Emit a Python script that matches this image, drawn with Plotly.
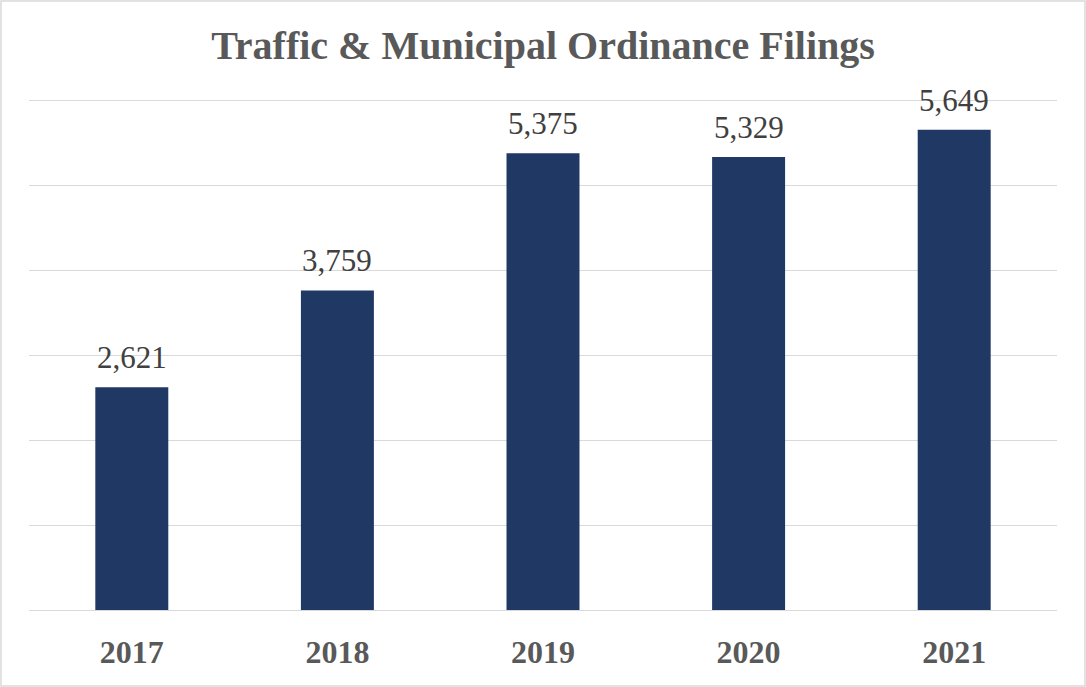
import plotly.graph_objects as go

years = ["2017", "2018", "2019", "2020", "2021"]
filings = [2621, 3759, 5375, 5329, 5649]
labels = ["2,621", "3,759", "5,375", "5,329", "5,649"]

W, H = 1086, 687
L, R, T, B = 29, 29, 95, 77
pw, ph = W - L - R, H - T - B
ymax = 6000 * ph / 510.0

fig = go.Figure(go.Bar(
    x=years, y=filings,
    marker=dict(color="#203864", line=dict(width=0)),
    width=0.355, hoverinfo="x+y",
))

annotations = [
    dict(x=i, y=v, text=lab, xref="x", yref="y", showarrow=False,
         yanchor="bottom", yshift=10,
         font=dict(family="Liberation Serif", size=31, color="#404040"))
    for i, (v, lab) in enumerate(zip(filings, labels))
]

fig.update_layout(
    width=W, height=H,
    margin=dict(l=L, r=R, t=T, b=B),
    paper_bgcolor="white", plot_bgcolor="white",
    title=dict(text="<b>Traffic & Municipal Ordinance Filings</b>",
               x=0.5, xanchor="center", y=1 - 45 / H, yanchor="middle",
               font=dict(family="Liberation Serif", size=40, color="#595959")),
    xaxis=dict(type="category", range=[-0.5, len(years) - 0.5],
               showgrid=False, showline=False, ticks="", ticklabelstandoff=20,
               tickfont=dict(family="Liberation Serif", size=32, color="#595959"),
               tickprefix="<b>", ticksuffix="</b>"),
    yaxis=dict(range=[0, ymax], tickvals=[0, 1000, 2000, 3000, 4000, 5000, 6000],
               showticklabels=False,
               showgrid=True, gridcolor="#D9D9D9", gridwidth=1.3,
               zeroline=True, zerolinecolor="#D9D9D9", zerolinewidth=1.3,
               showline=False),
    showlegend=False,
    annotations=annotations,
    shapes=[dict(type="rect", xref="paper", yref="paper",
                 x0=(1 - L) / pw, x1=(W - 1 - L) / pw,
                 y0=(H - B - (H - 1)) / ph, y1=(H - B - 1) / ph,
                 line=dict(color="#D9D9D9", width=1.5), layer="below")],
)

fig.write_html("out.html", config={"displayModeBar": False},
               post_script="document.body.style.margin='0';document.body.style.overflow='hidden';")
